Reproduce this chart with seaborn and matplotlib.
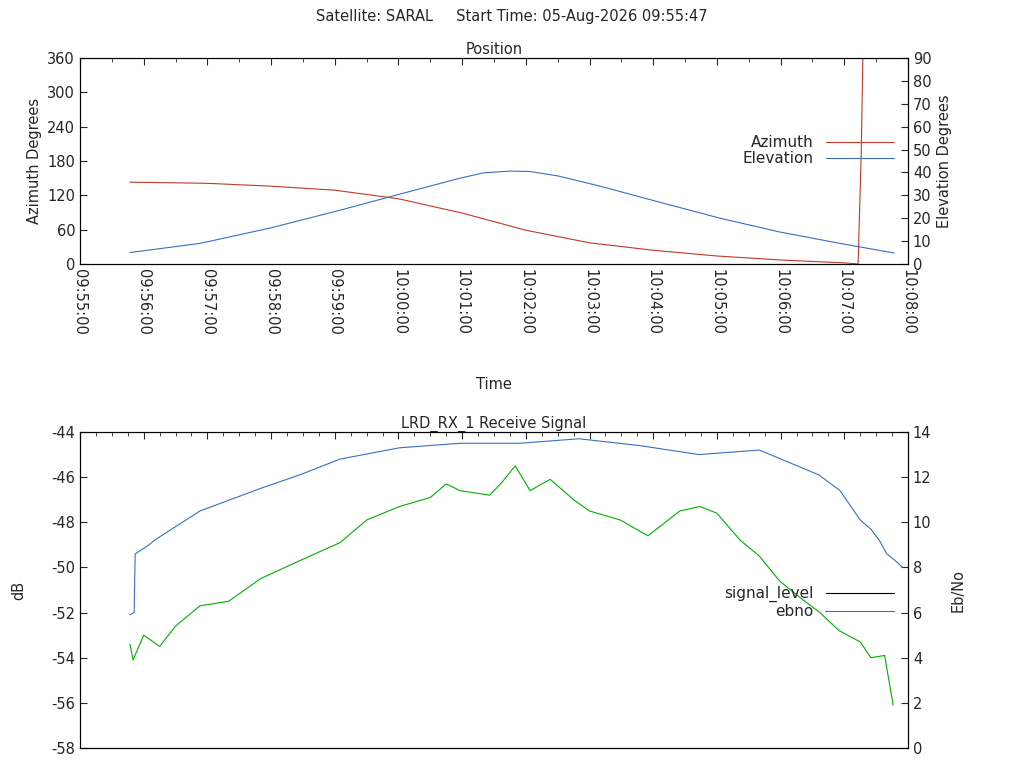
import matplotlib
matplotlib.use("Agg")
import matplotlib.pyplot as plt
import seaborn as sns
from matplotlib.lines import Line2D
from matplotlib.ticker import FuncFormatter, MultipleLocator

sns.set_style("white")
plt.rcParams['font.family'] = ['DejaVu Sans']
plt.rcParams['font.size'] = 10.5
plt.rcParams['axes.unicode_minus'] = False

# seconds after 09:55:00
az_t = [47, 120, 180, 240, 300, 360, 420, 480, 540, 600, 660, 720, 733, 736, 738]
az_v = [143, 141, 136, 129, 114, 89, 59, 37, 24, 14, 7, 2, 0, 200, 420]
el_t = [47, 113, 179, 245, 301, 358, 380, 405, 424, 450, 490, 546, 603, 659, 716, 767]
el_v = [5, 9, 15.7, 23.5, 30.5, 37.5, 39.8, 40.6, 40.4, 38.5, 34, 27, 20, 14, 9, 4.8]

sig_t = [47, 50, 60, 75, 90, 113, 140, 170, 207, 245, 270, 301, 330, 345, 358, 386, 398, 410, 424, 435, 443, 465, 480, 509, 535, 565, 584, 600, 622, 640, 659, 680, 697, 715, 735, 745, 758, 766]
sig_v = [-53.4, -54.1, -53.0, -53.5, -52.6, -51.7, -51.5, -50.5, -49.7, -48.9, -47.9, -47.3, -46.9, -46.3, -46.6, -46.8, -46.2, -45.5, -46.6, -46.3, -46.1, -47.0, -47.5, -47.9, -48.6, -47.5, -47.3, -47.6, -48.8, -49.5, -50.6, -51.4, -52.0, -52.8, -53.3, -54.0, -53.9, -56.1]
eb_t = [47, 51, 52, 65, 70, 113, 170, 207, 245, 301, 358, 414, 470, 527, 583, 640, 696, 716, 735, 745, 753, 760, 768, 775]
eb_v = [5.9, 6.0, 8.6, 9.0, 9.2, 10.5, 11.5, 12.1, 12.8, 13.3, 13.5, 13.5, 13.7, 13.4, 13.0, 13.2, 12.1, 11.4, 10.1, 9.7, 9.2, 8.6, 8.3, 8.0]

def fmt(s, _):
    s = int(round(s)); tot = 55 * 60 + s
    return f"{9 + tot // 3600:02d}:{(tot // 60) % 60:02d}:{s % 60:02d}"

fig = plt.figure(figsize=(10.24, 7.68), dpi=100)
W, H = 1024, 768
ax1 = fig.add_axes([80/W, 1-264/H, 828/W, 206/H])
ax1b = ax1.twinx()
ax2 = fig.add_axes([80/W, 1-748/H, 828/W, 316/H])
ax2b = ax2.twinx()

sns.lineplot(x=az_t, y=az_v, ax=ax1, color='#c0392b', lw=0.8, legend=False)
sns.lineplot(x=el_t, y=el_v, ax=ax1b, color='#3a6fc0', lw=0.8, legend=False)
sns.lineplot(x=sig_t, y=sig_v, ax=ax2, color='#00b000', lw=0.8, legend=False)
sns.lineplot(x=eb_t, y=eb_v, ax=ax2b, color='#3a6fc0', lw=0.8, legend=False)

for a in (ax1, ax1b, ax2, ax2b):
    a.set_xlim(0, 780)
    a.tick_params(direction='in', which='both', length=5, labelsize=10.5)
    a.tick_params(which='minor', length=3)
    for sp in a.spines.values():
        sp.set_linewidth(0.8); sp.set_color('black')

ax1.set_ylim(0, 360); ax1.yaxis.set_major_locator(MultipleLocator(60))
ax1b.set_ylim(0, 90); ax1b.yaxis.set_major_locator(MultipleLocator(10))
ax1.xaxis.set_major_locator(MultipleLocator(60))
ax1.xaxis.set_minor_locator(MultipleLocator(30))
ax1.xaxis.set_major_formatter(FuncFormatter(fmt))
ax1.tick_params(axis='x', labelrotation=-90, top=True, which='both')
ax1.set_ylabel('Azimuth Degrees'); ax1b.set_ylabel('Elevation Degrees')
ax1.set_xlabel('Time', labelpad=30); ax1.set_title('Position', fontsize=10.5, pad=3)

ax2.set_ylim(-58, -44); ax2.yaxis.set_major_locator(MultipleLocator(2))
ax2b.set_ylim(0, 14); ax2b.yaxis.set_major_locator(MultipleLocator(2))
ax2.xaxis.set_major_locator(MultipleLocator(60))
ax2.xaxis.set_minor_locator(MultipleLocator(15))
ax2.tick_params(axis='x', labelbottom=False, top=True, which='both')
ax2.set_ylabel('dB', labelpad=18); ax2b.set_ylabel('Eb/No', labelpad=14)
ax2.set_title('LRD_RX_1 Receive Signal', fontsize=10.5, pad=3)

ax1b.legend(handles=[Line2D([], [], color='#c0392b', lw=0.8), Line2D([], [], color='#3a6fc0', lw=0.8)],
            labels=['Azimuth', 'Elevation'], loc='center right', bbox_to_anchor=(1.0, 0.55),
            frameon=False, markerfirst=False, handlelength=4.5, labelspacing=0.1, fontsize=11)
ax2b.legend(handles=[Line2D([], [], color='black', lw=0.8), Line2D([], [], color='#3a6fc0', lw=0.8)],
            labels=['signal_level', 'ebno'], loc='center right', bbox_to_anchor=(1.0, 0.46),
            frameon=False, markerfirst=False, handlelength=4.5, labelspacing=0.1, fontsize=11)

fig.text(0.5, 1-17/H, 'Satellite: SARAL     Start Time: 05-Aug-2026 09:55:47', ha='center', va='center', fontsize=10.5)
fig.savefig('out.png', dpi=100)
